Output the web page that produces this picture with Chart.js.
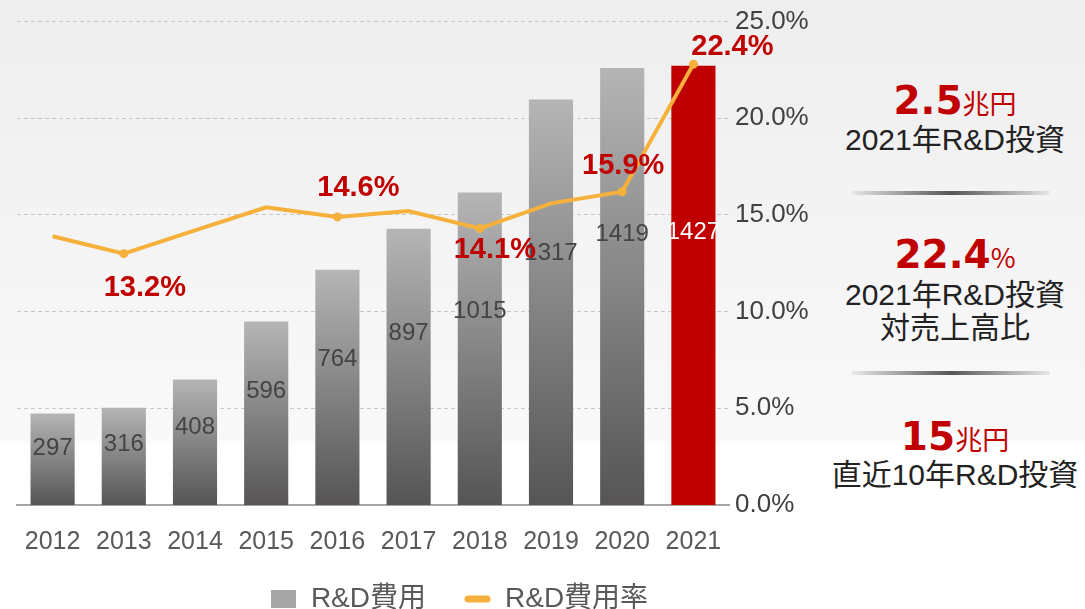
<!DOCTYPE html>
<html>
<head>
<meta charset="utf-8">
<script src="https://cdn.jsdelivr.net/npm/chart.js@4/dist/chart.umd.min.js"></script>
<style>
  html, body { margin: 0; padding: 0; }
  body {
    width: 1085px; height: 609px; overflow: hidden; position: relative;
    background: linear-gradient(to bottom, #eeeeee 0px, #f9f9f9 440px, #ffffff 445px, #ffffff 609px);
    font-family: "Liberation Sans", Arial, "Noto Sans CJK JP", sans-serif;
  }
  #wrap { position: absolute; left: 0; top: 0; width: 810px; height: 609px; }
  .panel { position: absolute; left: 830px; width: 250px; text-align: center; color: #222; }
  .big { color: #c00000; font-family: "DejaVu Sans", sans-serif; font-weight: bold; font-size: 39px; line-height: 44px; }
  .unit { color: #c00000; font-family: "Noto Sans CJK JP", sans-serif; font-weight: normal; font-size: 27px; }
  .sub { font-family: "Liberation Sans", "Noto Sans CJK JP", sans-serif; font-size: 30px; line-height: 33px; }
  .sep { position: absolute; left: 852px; width: 198px; height: 4px;
    background: linear-gradient(to right, rgba(200,200,200,0.3), #555 50%, rgba(200,200,200,0.3)); }
</style>
</head>
<body>
<div id="wrap"><canvas id="rd-chart" width="810" height="609"></canvas></div>

<div class="panel" style="top:79px"><span class="big">2.5</span><span class="unit">兆円</span></div>
<div class="panel sub" style="top:123px">2021年R&amp;D投資</div>
<div class="sep" style="top:191px"></div>
<div class="panel" style="top:233px"><span class="big">22.4</span><span class="unit">%</span></div>
<div class="panel sub" style="top:278px">2021年R&amp;D投資<br>対売上高比</div>
<div class="sep" style="top:371px"></div>
<div class="panel" style="top:415px"><span class="big">15</span><span class="unit">兆円</span></div>
<div class="panel sub" style="top:458px">直近10年R&amp;D投資</div>

<script>
var years = ['2012', '2013', '2014', '2015', '2016', '2017', '2018', '2019', '2020', '2021'];
var rdCost = [297, 316, 408, 596, 764, 897, 1015, 1317, 1419, 1427];
var rdRate = [13.9, 13.0, 14.2, 15.4, 14.9, 15.2, 14.3, 15.6, 16.2, 22.8];
var rateLabels = ['', '13.2%', '', '', '14.6%', '', '14.1%', '', '15.9%', '22.4%'];
var rateTicks = [0, 5, 10, 15, 20, 25];

var RED = '#c00000';
var ORANGE = '#f5b13c';
var FONT = '"Liberation Sans", Arial, "Noto Sans CJK JP", sans-serif';

// label offsets from the point, by year index
var rateLabelOffset = {1: [21, 34], 4: [21, -29], 6: [15, 22], 8: [1, -26], 9: [39, -17]};

function barFill(ctx) {
    var chart = ctx.chart;
    if (ctx.dataIndex === years.length - 1) return RED;
    var y = chart.scales.y;
    if (!y || !chart.chartArea) return '#999';
    var top = y.getPixelForValue(rdCost[ctx.dataIndex]);
    var bottom = y.getPixelForValue(0);
    var g = chart.ctx.createLinearGradient(0, top, 0, bottom);
    g.addColorStop(0, '#b5b5b5');
    g.addColorStop(1, '#565454');
    return g;
}

function legendIcon(kind) {
    var c = document.createElement('canvas');
    if (kind === 'bar') {
        c.width = 25; c.height = 18;
        var g = c.getContext('2d');
        g.fillStyle = '#a6a6a6';
        g.fillRect(0, 0, 25, 18);
    } else {
        c.width = 27; c.height = 8;
        var g2 = c.getContext('2d');
        g2.strokeStyle = ORANGE; g2.lineWidth = 7; g2.lineCap = 'round';
        g2.beginPath(); g2.moveTo(4, 4); g2.lineTo(23, 4); g2.stroke();
    }
    return c;
}

var valueLabels = {
    id: 'valueLabels',
    afterLayout: function (chart) {
        // legend sits a bit right of the canvas centre in the original
        chart.legend.left += 46;
        chart.legend.right += 46;
        chart.legend.top -= 8;
    },
    afterDatasetsDraw: function (chart) {
        var ctx = chart.ctx;
        var bars = chart.getDatasetMeta(1).data;
        ctx.save();
        ctx.textAlign = 'center';
        ctx.textBaseline = 'middle';
        ctx.font = '24px ' + FONT;
        bars.forEach(function (bar, i) {
            var h = bar.base - bar.y;
            ctx.fillStyle = i === years.length - 1 ? '#ffffff' : '#444444';
            ctx.fillText(String(rdCost[i]), bar.x, bar.y + h * 0.38);
        });
        var pts = chart.getDatasetMeta(0).data;
        ctx.font = 'bold 29px ' + FONT;
        ctx.fillStyle = RED;
        pts.forEach(function (p, i) {
            if (!rateLabels[i]) return;
            var off = rateLabelOffset[i] || [0, -20];
            ctx.fillText(rateLabels[i], p.x + off[0], p.y + off[1]);
        });
        ctx.restore();
    }
};

var chartCtx = document.getElementById('rd-chart').getContext('2d');
var rdChart = new Chart(chartCtx, {
    data: {
        labels: years,
        datasets: [{
            type: 'line',
            label: 'R&D費用率',
            data: rdRate,
            yAxisID: 'y1',
            borderColor: ORANGE,
            backgroundColor: ORANGE,
            borderWidth: 4,
            tension: 0,
            pointRadius: function (c) { return rateLabels[c.dataIndex] ? 4.5 : 0; },
            pointBackgroundColor: ORANGE,
            pointBorderWidth: 0,
            order: 0
        }, {
            type: 'bar',
            label: 'R&D費用',
            data: rdCost,
            yAxisID: 'y',
            backgroundColor: barFill,
            barPercentage: 0.62,
            categoryPercentage: 1,
            order: 1
        }]
    },
    options: {
        responsive: false,
        animation: false,
        layout: {padding: {left: 17, right: 1, top: 21, bottom: 0}},
        plugins: {
            tooltip: {enabled: false},
            legend: {
                position: 'bottom',
                maxHeight: 54,
                labels: {
                    usePointStyle: true,
                    pointStyleWidth: 27,
                    padding: 38,
                    color: '#595959',
                    font: {size: 28, family: FONT},
                    generateLabels: function () {
                        return [
                            {text: 'R&D費用', pointStyle: legendIcon('bar'), datasetIndex: 1, fontColor: '#595959', lineWidth: 0},
                            {text: 'R&D費用率', pointStyle: legendIcon('line'), datasetIndex: 0, fontColor: '#595959', lineWidth: 0}
                        ];
                    }
                }
            }
        },
        scales: {
            x: {
                grid: {display: false},
                border: {color: '#a6a6a6', width: 2},
                afterFit: function (s) { s.height = 50; },
                ticks: {color: '#595959', padding: 14, font: {size: 25, family: FONT}}
            },
            y: {display: false, min: 0, max: 1570},
            y1: {
                position: 'right',
                min: 0, max: 25,
                afterBuildTicks: function (s) { s.ticks = rateTicks.map(function (v) { return {value: v}; }); },
                afterFit: function (s) { s.width = 80; },
                border: {display: false, dash: [4, 3]},
                grid: {color: '#c8c8c8', drawTicks: false},
                ticks: {
                    color: '#404040', padding: 6,
                    font: {size: 26, family: FONT},
                    callback: function (v) { return v.toFixed(1) + '%'; }
                }
            }
        }
    },
    plugins: [valueLabels]
});
</script>
</body>
</html>
